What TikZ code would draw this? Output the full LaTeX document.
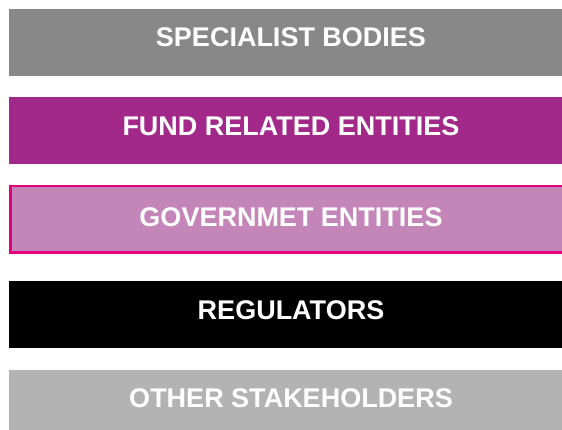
\documentclass[tikz,border=0pt]{standalone}
\usepackage{fontspec}
\setmainfont{Liberation Sans}
\definecolor{cGray}{HTML}{888888}
\definecolor{cPurple}{HTML}{A2288A}
\definecolor{cPink}{HTML}{C485B9}
\definecolor{cMagenta}{HTML}{E5007E}
\definecolor{cLight}{HTML}{B3B3B3}
\tikzset{
  bar/.style={inner sep=0pt, outer sep=0pt},
  lbl/.style={text=white, font=\fontsize{27}{30}\selectfont\bfseries, inner sep=0pt}
}
\begin{document}
\begin{tikzpicture}[x=1pt,y=-1pt]
\useasboundingbox (0,0) rectangle (562,430);
\fill[white] (0,0) rectangle (562,430);
% bars
\fill[cGray] (9,9) rectangle (575,76);
\node[lbl] (t1) at (291,37) {SPECIALIST BODIES};
\fill[cPurple] (9,97) rectangle (575,164);
\node[lbl] (t2) at (291,126) {FUND RELATED ENTITIES};
\filldraw[fill=cPink, draw=cMagenta, line width=2.5pt] (10.25,186.25) rectangle (575,252.75);
\node[lbl] (t3) at (291,217) {GOVERNMET ENTITIES};
\fill[black] (9,281) rectangle (575,348);
\node[lbl] (t4) at (291,310) {REGULATORS};
\fill[cLight] (9,370) rectangle (575,437);
\node[lbl] (t5) at (291,398) {OTHER STAKEHOLDERS};
\end{tikzpicture}
\end{document}
